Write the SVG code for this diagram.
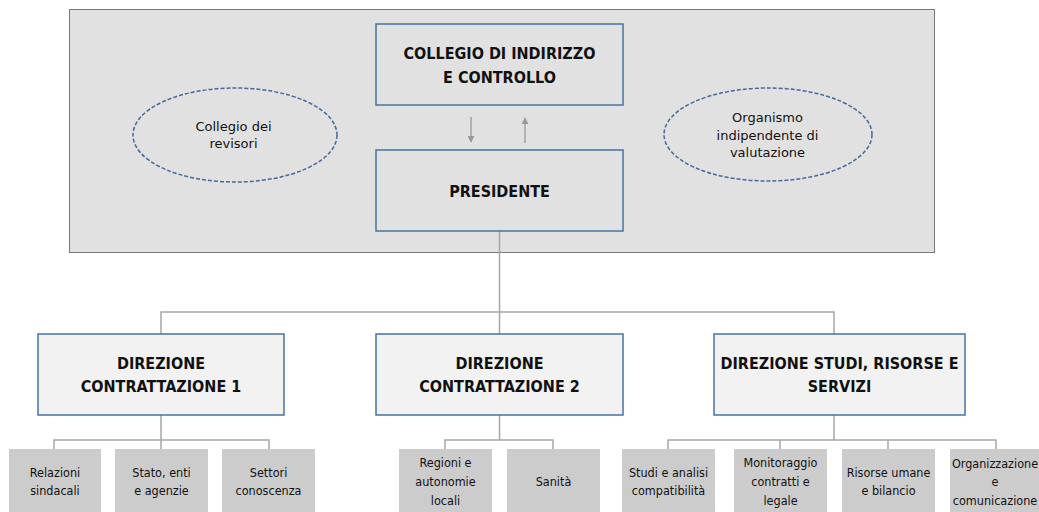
<svg xmlns="http://www.w3.org/2000/svg" width="1039" height="512" viewBox="0 0 1039 512">
<defs>
<style>
.bg{fill:#e1e1e1;stroke:#000;stroke-width:1;stroke-dasharray:1 1}
.top{fill:#e1e1e1;stroke:#4a70a2;stroke-width:1.5}
.dir{fill:#f2f2f2;stroke:#4a70a2;stroke-width:1.5}
.sub{fill:#cccccc;stroke:none}
.ell{fill:none;stroke:#44699c;stroke-width:1.5;stroke-dasharray:4 2}
.conn{fill:none;stroke:#a6a6a6;stroke-width:1.5}
.arr{fill:none;stroke:#999;stroke-width:1.3}
.b{font-family:"DejaVu Sans Condensed","DejaVu Sans",sans-serif;font-weight:bold;font-size:16px;fill:#111;text-anchor:middle}
.e{font-family:"DejaVu Sans",sans-serif;font-size:13px;fill:#111;text-anchor:middle}
.s{font-family:"DejaVu Sans Condensed","DejaVu Sans",sans-serif;font-size:12.5px;fill:#111;text-anchor:middle}
</style>
<marker id="ah" viewBox="0 0 10 10" refX="9" refY="5" markerWidth="7" markerHeight="7" markerUnits="userSpaceOnUse" orient="auto">
<path d="M0,0 L10,5 L0,10 z" fill="#999"/>
</marker>
</defs>
<rect class="bg" x="69.5" y="9.5" width="865" height="243"/>
<g id="connectors">
<line class="arr" x1="471" y1="117" x2="471" y2="142" marker-end="url(#ah)"/>
<line class="arr" x1="525" y1="143" x2="525" y2="118" marker-end="url(#ah)"/>
<polyline class="conn" points="499.5,231 499.5,334"/>
<polyline class="conn" points="161,334 161,312 834,312 834,334"/>
<polyline class="conn" points="161,415 161,449"/>
<polyline class="conn" points="54,449 54,440 269,440 269,449"/>
<polyline class="conn" points="499.5,415 499.5,440"/>
<polyline class="conn" points="445,449 445,440 553,440 553,449"/>
<polyline class="conn" points="834,415 834,440"/>
<polyline class="conn" points="668,449 668,440 996,440 996,449"/>
<polyline class="conn" points="780,440 780,449"/>
<polyline class="conn" points="888,440 888,449"/>
</g>
<g id="collegio-revisori">
<ellipse class="ell" cx="235" cy="135" rx="102" ry="47"/>
<text class="e" x="233.5" y="131">Collegio dei</text>
<text class="e" x="233.5" y="148">revisori</text>
</g>
<g id="oiv">
<ellipse class="ell" cx="768" cy="134.5" rx="104" ry="46.5"/>
<text class="e" x="767.5" y="122">Organismo</text>
<text class="e" x="767.5" y="139.5">indipendente di</text>
<text class="e" x="767.5" y="157">valutazione</text>
</g>
<g id="collegio-indirizzo">
<rect class="top" x="376" y="24" width="247" height="81"/>
<text class="b" x="499.5" y="59">COLLEGIO DI INDIRIZZO</text>
<text class="b" x="499.5" y="82.5">E CONTROLLO</text>
</g>
<g id="presidente">
<rect class="top" x="376" y="150" width="247" height="81"/>
<text class="b" x="499.5" y="197">PRESIDENTE</text>
</g>
<g id="direzione-1">
<rect class="dir" x="38" y="334" width="246" height="81"/>
<text class="b" x="161" y="369">DIREZIONE</text>
<text class="b" x="161" y="392">CONTRATTAZIONE 1</text>
</g>
<g id="direzione-2">
<rect class="dir" x="376" y="334" width="247" height="81"/>
<text class="b" x="499.5" y="369">DIREZIONE</text>
<text class="b" x="499.5" y="392">CONTRATTAZIONE 2</text>
</g>
<g id="direzione-3">
<rect class="dir" x="714" y="334" width="251" height="81"/>
<text class="b" x="839.5" y="369">DIREZIONE STUDI, RISORSE E</text>
<text class="b" x="839.5" y="392">SERVIZI</text>
</g>
<g id="relazioni-sindacali">
<rect class="sub" x="9" y="449" width="92" height="66"/>
<text class="s" x="55" y="477">Relazioni</text>
<text class="s" x="55" y="495">sindacali</text>
</g>
<g id="stato-enti">
<rect class="sub" x="115" y="449" width="93" height="66"/>
<text class="s" x="161.5" y="477">Stato, enti</text>
<text class="s" x="161.5" y="495">e agenzie</text>
</g>
<g id="settori-conoscenza">
<rect class="sub" x="222" y="449" width="93" height="66"/>
<text class="s" x="268.5" y="477">Settori</text>
<text class="s" x="268.5" y="495">conoscenza</text>
</g>
<g id="regioni">
<rect class="sub" x="399" y="449" width="93" height="66"/>
<text class="s" x="445.5" y="467">Regioni e</text>
<text class="s" x="445.5" y="486">autonomie</text>
<text class="s" x="445.5" y="505">locali</text>
</g>
<g id="sanita">
<rect class="sub" x="507" y="449" width="93" height="66"/>
<text class="s" x="553.5" y="486">Sanità</text>
</g>
<g id="studi-analisi">
<rect class="sub" x="622" y="449" width="93" height="66"/>
<text class="s" x="668.5" y="477">Studi e analisi</text>
<text class="s" x="668.5" y="495">compatibilità</text>
</g>
<g id="monitoraggio">
<rect class="sub" x="734" y="449" width="93" height="66"/>
<text class="s" x="780.5" y="467">Monitoraggio</text>
<text class="s" x="780.5" y="486">contratti e</text>
<text class="s" x="780.5" y="505">legale</text>
</g>
<g id="risorse-umane">
<rect class="sub" x="842" y="449" width="93" height="66"/>
<text class="s" x="888.5" y="477">Risorse umane</text>
<text class="s" x="888.5" y="495">e bilancio</text>
</g>
<g id="organizzazione">
<rect class="sub" x="950" y="449" width="93" height="66"/>
<text class="s" x="995" y="468">Organizzazione</text>
<text class="s" x="995" y="486">e</text>
<text class="s" x="995" y="505">comunicazione</text>
</g>
</svg>
